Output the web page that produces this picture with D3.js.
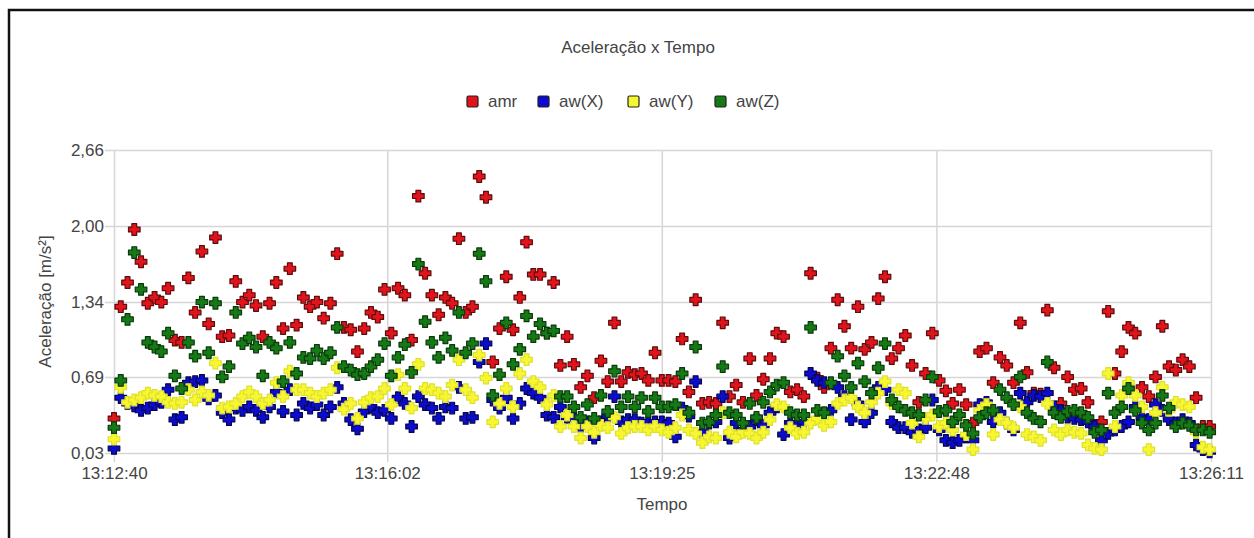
<!DOCTYPE html>
<html>
<head>
<meta charset="utf-8">
<script src="https://cdn.jsdelivr.net/npm/d3@7"></script>
<style>
  html, body { margin: 0; padding: 0; background: #fff; }
  svg { display: block; }
  text { font-family: "Liberation Sans", Arial, sans-serif; }
</style>
</head>
<body>
<svg id="chart" width="1254" height="538"></svg>
<script>
// ---------- data ----------
const title = "Aceleração x Tempo";
const xTitle = "Tempo";
const yTitle = "Aceleração [m/s²]";
const startTime = "13:12:40";
const sampleInterval = 5; // seconds between samples
const xTickLabels = ["13:12:40", "13:16:02", "13:19:25", "13:22:48", "13:26:11"];
const yTickValues = [0.03, 0.69, 1.34, 2.00, 2.66];
const seriesNames = ["amr", "aw(X)", "aw(Y)", "aw(Z)"];

const amr = [0.33,1.30,1.51,1.97,1.69,1.33,1.38,1.34,1.46,1.01,0.99,1.55,1.25,1.78,1.15,1.90,1.04,1.05,1.52,1.34,
1.40,1.31,1.04,1.33,1.51,1.11,1.63,1.14,1.38,1.30,1.34,1.20,1.33,1.76,1.12,1.10,0.91,1.11,1.25,1.21,
1.45,1.07,1.46,1.40,1.01,2.26,1.59,1.40,1.23,1.38,1.33,1.89,1.25,1.30,2.43,2.25,0.82,1.11,1.56,1.10,
1.38,1.86,1.58,1.58,1.07,1.51,0.79,1.04,0.80,0.60,0.70,0.51,0.83,0.65,1.16,0.65,0.73,0.71,0.72,0.66,
0.90,0.66,0.66,0.65,1.02,0.56,1.36,0.46,0.47,0.46,1.16,0.52,0.62,0.47,0.85,0.53,0.67,0.85,1.07,1.04,
0.56,0.58,0.52,1.59,0.68,0.60,0.94,1.36,1.13,0.94,1.30,0.93,0.99,1.37,1.56,0.85,0.94,1.05,0.79,0.47,
0.72,1.07,0.66,0.57,0.46,0.58,0.45,0.29,0.91,0.94,0.64,0.86,0.79,0.64,1.16,0.73,0.55,0.54,1.27,0.77,
0.46,0.69,0.58,0.59,0.47,0.27,0.30,1.26,0.72,0.91,1.12,1.07,0.60,0.52,0.69,1.13,0.78,0.75,0.84,0.78,
0.51,0.26,0.26];

const awX = [0.07,0.51,0.46,0.44,0.40,0.42,0.45,0.47,0.58,0.32,0.34,0.64,0.65,0.66,0.50,0.53,0.38,0.32,0.42,0.40,
0.43,0.40,0.34,0.43,0.56,0.39,0.58,0.36,0.46,0.42,0.45,0.36,0.43,0.60,0.46,0.32,0.24,0.39,0.43,0.38,
0.40,0.33,0.51,0.46,0.26,0.52,0.45,0.42,0.33,0.43,0.42,0.60,0.33,0.34,0.82,0.98,0.49,0.42,0.51,0.33,
0.46,0.59,0.55,0.51,0.36,0.34,0.43,0.34,0.33,0.26,0.30,0.16,0.30,0.35,0.52,0.30,0.32,0.32,0.29,0.30,
0.30,0.30,0.29,0.17,0.42,0.35,0.65,0.21,0.29,0.30,0.52,0.16,0.29,0.23,0.26,0.32,0.27,0.38,0.43,0.19,
0.29,0.27,0.30,0.72,0.66,0.64,0.40,0.60,0.52,0.32,0.46,0.30,0.38,0.60,0.58,0.30,0.25,0.25,0.21,0.23,
0.25,0.49,0.23,0.14,0.12,0.14,0.17,0.14,0.45,0.47,0.30,0.38,0.29,0.23,0.55,0.47,0.53,0.52,0.55,0.43,
0.40,0.34,0.33,0.32,0.30,0.26,0.14,0.20,0.23,0.26,0.30,0.43,0.34,0.32,0.45,0.40,0.32,0.29,0.32,0.29,
0.10,0.06,0.04];

const awY = [0.15,0.60,0.47,0.49,0.51,0.55,0.53,0.52,0.47,0.46,0.47,0.58,0.49,0.56,0.53,0.81,0.42,0.43,0.46,0.52,
0.56,0.52,0.46,0.49,0.64,0.52,0.74,0.58,0.58,0.55,0.52,0.55,0.58,0.77,0.41,0.46,0.33,0.47,0.51,0.52,
0.59,0.45,0.71,0.59,0.42,0.80,0.59,0.58,0.55,0.52,0.62,0.84,0.58,0.51,0.88,0.68,0.30,0.46,0.59,0.43,
0.72,0.84,0.65,0.60,0.45,0.53,0.26,0.36,0.26,0.16,0.26,0.21,0.27,0.25,0.34,0.20,0.25,0.26,0.26,0.23,
0.26,0.23,0.21,0.25,0.36,0.23,0.20,0.12,0.17,0.16,0.38,0.21,0.17,0.21,0.20,0.16,0.21,0.32,0.45,0.43,
0.25,0.20,0.21,0.29,0.33,0.27,0.30,0.46,0.49,0.51,0.43,0.38,0.47,0.55,0.65,0.46,0.58,0.55,0.29,0.17,
0.33,0.36,0.26,0.29,0.23,0.36,0.19,0.06,0.40,0.45,0.19,0.32,0.29,0.25,0.43,0.19,0.17,0.14,0.46,0.23,
0.19,0.23,0.21,0.20,0.10,0.07,0.06,0.72,0.26,0.53,0.64,0.53,0.43,0.06,0.38,0.60,0.40,0.47,0.45,0.43,
0.21,0.08,0.06];

const awZ = [0.25,0.66,1.19,1.77,1.45,0.99,0.95,0.91,1.07,0.70,0.59,0.99,0.87,1.34,0.90,1.33,0.69,0.78,1.25,0.98,
1.03,0.95,0.70,0.99,0.94,0.65,0.99,0.72,0.86,0.85,0.92,0.85,0.90,1.12,0.78,0.75,0.71,0.72,0.78,0.84,
0.98,0.70,0.86,0.97,0.73,1.67,1.17,0.99,0.86,1.03,0.92,1.25,0.90,0.98,1.76,1.52,0.53,0.71,1.16,0.80,
0.93,1.22,1.04,1.15,1.07,1.09,0.52,0.52,0.43,0.34,0.45,0.33,0.53,0.39,0.74,0.43,0.52,0.43,0.51,0.39,
0.51,0.43,0.43,0.45,0.72,0.38,0.95,0.29,0.30,0.36,0.78,0.38,0.36,0.29,0.46,0.34,0.47,0.56,0.62,0.64,
0.38,0.36,0.36,1.12,0.40,0.38,0.64,0.87,0.70,0.60,0.81,0.65,0.55,0.77,0.98,0.49,0.43,0.40,0.38,0.36,
0.49,0.69,0.39,0.40,0.30,0.36,0.27,0.20,0.34,0.38,0.40,0.58,0.51,0.45,0.69,0.38,0.33,0.30,0.82,0.38,
0.34,0.39,0.40,0.38,0.34,0.21,0.23,0.55,0.38,0.43,0.59,0.40,0.29,0.23,0.29,0.53,0.42,0.26,0.29,0.27,
0.23,0.23,0.21];

// ---------- helpers ----------
function toSec(s) { const p = s.split(":").map(Number); return p[0]*3600 + p[1]*60 + p[2]; }
const t0 = toSec(startTime);
const fmtComma = d => d.toFixed(2).replace(".", ",");

// ---------- layout ----------
const svg = d3.select("#chart");
const plot = { left: 114, right: 1211, top: 150, bottom: 453 };

// frame
svg.append("rect").attr("x", 9).attr("y", 10).attr("width", 1270).attr("height", 560)
  .attr("fill", "none").attr("stroke", "#111").attr("stroke-width", 2.5);

const x = d3.scaleLinear()
  .domain([0, toSec(xTickLabels[xTickLabels.length-1]) - t0])
  .range([plot.left, plot.right]);
const y = d3.scaleLinear()
  .domain([yTickValues[0], yTickValues[yTickValues.length-1]])
  .range([plot.bottom, plot.top]);

const xTickVals = xTickLabels.map(l => toSec(l) - t0);

// gridlines + ticks
const gridColor = "#d6d6d6";
const yAxis = d3.axisLeft(y).tickValues(yTickValues).tickFormat(fmtComma)
  .tickSize(-(plot.right - plot.left)).tickPadding(10);
const gy = svg.append("g").attr("transform", `translate(${plot.left},0)`).call(yAxis);
gy.select(".domain").remove();
gy.selectAll(".tick line").attr("stroke", gridColor).attr("stroke-width", 1.5).attr("x1", -9);
gy.selectAll(".tick text").attr("fill", "#444").style("font-size", "17px")
  .style("font-family", "'Liberation Sans', Arial, sans-serif").attr("x", -10);

const xAxis = d3.axisBottom(x).tickValues(xTickVals)
  .tickFormat((d, i) => xTickLabels[i])
  .tickSize(-(plot.bottom - plot.top)).tickPadding(14);
const gx = svg.append("g").attr("transform", `translate(0,${plot.bottom})`).call(xAxis);
gx.select(".domain").remove();
gx.selectAll(".tick line").attr("stroke", gridColor).attr("stroke-width", 1.5).attr("y1", 9);
gx.selectAll(".tick text").attr("fill", "#444").style("font-size", "17px")
  .style("font-family", "'Liberation Sans', Arial, sans-serif").attr("y", 14);

// ---------- markers ----------
const h = 5.8, a = 2.4;
const plusPath = `M${-a},${-h}L${a},${-h}L${a},${-a}L${h},${-a}L${h},${a}L${a},${a}L${a},${h}L${-a},${h}L${-a},${a}L${-h},${a}L${-h},${-a}L${-a},${-a}Z`;

const styles = {
  "amr":   { fill: "#e3131b", stroke: "#5e0d0d" },
  "aw(X)": { fill: "#0c0cd0", stroke: "#050550" },
  "aw(Y)": { fill: "#f6f631", stroke: "#e0e02a" },
  "aw(Z)": { fill: "#157a15", stroke: "#0a3a0a" }
};
const seriesData = { "amr": amr, "aw(X)": awX, "aw(Y)": awY, "aw(Z)": awZ };
const drawOrder = ["amr", "aw(X)", "aw(Y)", "aw(Z)"];

drawOrder.forEach(name => {
  const vals = seriesData[name];
  const st = styles[name];
  svg.append("g").attr("class", "series")
    .selectAll("path").data(vals).join("path")
    .attr("d", plusPath)
    .attr("transform", (v, i) => `translate(${x(i * sampleInterval)},${y(v)})`)
    .attr("fill", st.fill).attr("stroke", st.stroke).attr("stroke-width", 1.2)
    .attr("stroke-linejoin", "round");
});

// ---------- titles ----------
svg.append("text").attr("x", 638).attr("y", 53).attr("text-anchor", "middle")
  .attr("fill", "#444").style("font-size", "17px").text(title);

svg.append("text").attr("x", 662).attr("y", 510).attr("text-anchor", "middle")
  .attr("fill", "#444").style("font-size", "17px").text(xTitle);

svg.append("text").attr("transform", `translate(51,${(plot.top + plot.bottom)/2}) rotate(-90)`)
  .attr("text-anchor", "middle").attr("fill", "#444").style("font-size", "17px").text(yTitle);

// ---------- legend ----------
const legendX = [467, 538, 628, 715];
const lg = svg.append("g");
seriesNames.forEach((name, i) => {
  const g = lg.append("g").attr("transform", `translate(${legendX[i]},96)`);
  g.append("rect").attr("width", 11).attr("height", 11).attr("rx", 1.5)
    .attr("fill", styles[name].fill).attr("stroke", "#222").attr("stroke-width", 1.2);
  g.append("text").attr("x", 21).attr("y", 11).attr("fill", "#444")
    .style("font-size", "17px").text(name);
});
</script>
</body>
</html>
